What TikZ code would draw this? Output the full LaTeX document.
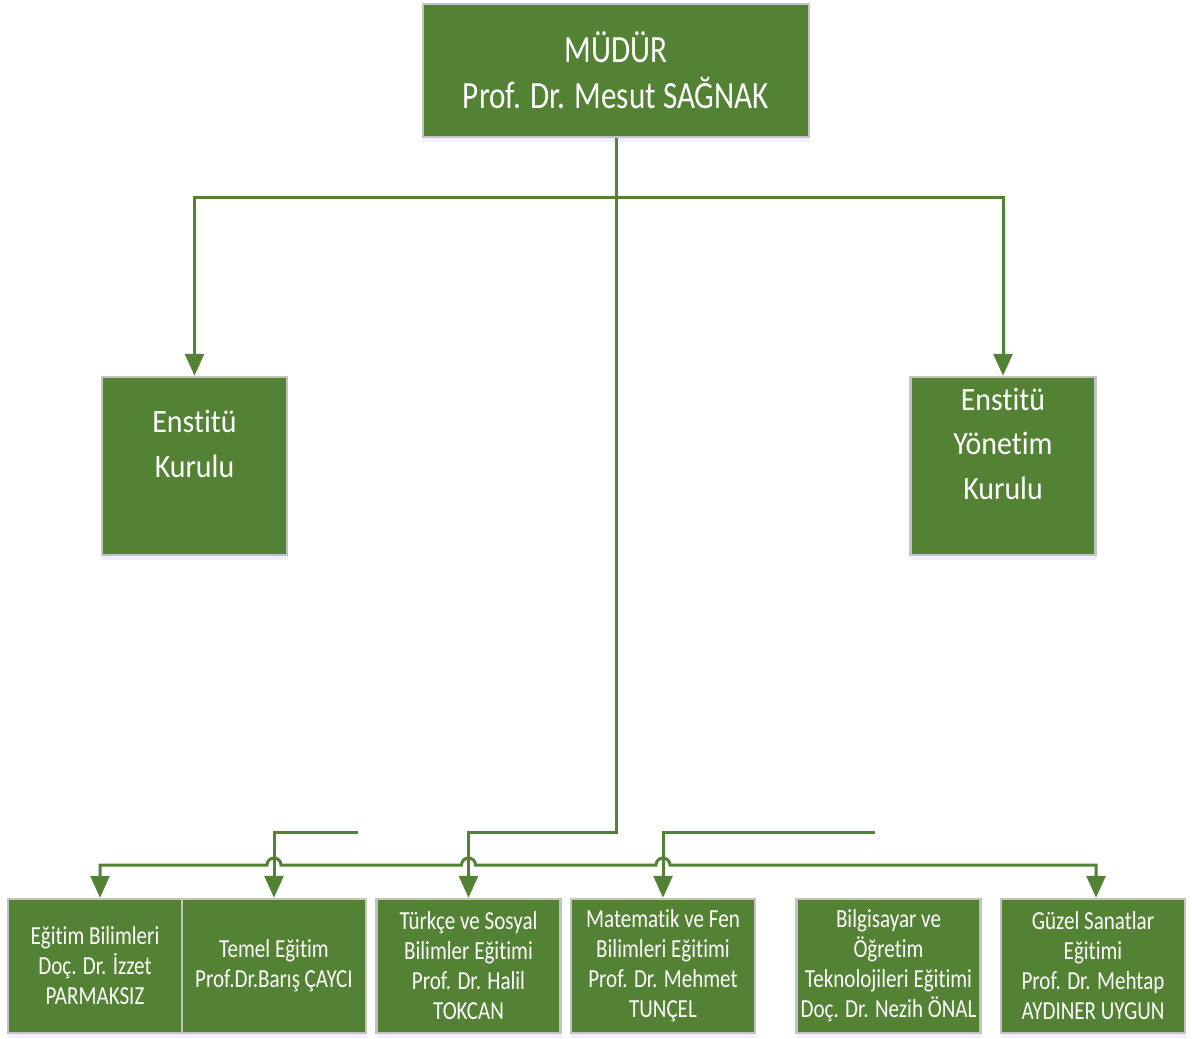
\documentclass[tikz,border=0pt]{standalone}
\usepackage{fontspec}
\setmainfont{Carlito}[Ligatures=NoCommon]
\newfontfamily\tallfont{Carlito}[Ligatures=NoCommon, FakeStretch=0.81]
\newfontfamily\midfont{Carlito}[Ligatures=NoCommon, FakeStretch=0.92]
\usetikzlibrary{arrows.meta,shadows}
\definecolor{boxgreen}{HTML}{548235}
\definecolor{boxedge}{HTML}{C3C3C3}
\tikzset{
  unit/.style={draw=boxedge, line width=2.5pt, fill=boxgreen, text=white, align=center, inner sep=2pt,
    drop shadow={shadow xshift=0pt, shadow yshift=-5pt, opacity=0.2, fill=blue!30}},
  bigunit/.style={unit, minimum width=185pt, minimum height=178pt, font=\midfont\fontsize{32.5}{44.5}\selectfont},
  smallunit/.style={unit, minimum width=184pt, minimum height=134pt, font=\tallfont\fontsize{26}{30}\selectfont},
  link/.style={draw=boxgreen, line width=3pt},
  arrow/.style={link, -{Triangle[width=19pt,length=22pt]}},
}
\begin{document}
\begin{tikzpicture}[x=1pt,y=-1pt]
\useasboundingbox (0,0) rectangle (1192,1039);
\node[unit, minimum width=386pt, minimum height=133pt, font=\tallfont\fontsize{38.5}{46}\selectfont] (mudur) at (616,70.5) {MÜDÜR\\Prof. Dr. Mesut SAĞNAK};
\node[bigunit] (kurul) at (194.5,466) {Enstitü\\Kurulu\\\mbox{}};
\node[bigunit] (yonetim) at (1003,466) {Enstitü\\Yönetim\\Kurulu\\\mbox{}};
\node[smallunit, minimum width=174pt] (egitim) at (95,966) {Eğitim Bilimleri\\Doç. Dr. İzzet\\PARMAKSIZ};
\node[smallunit] (temel) at (274,966) {Temel Eğitim\\Prof.Dr.Barış ÇAYCI};
\node[smallunit] (turkce) at (468.5,966) {Türkçe ve Sosyal\\Bilimler Eğitimi\\Prof. Dr. Halil\\TOKCAN};
\node[smallunit] (matfen) at (663,966) {Matematik ve Fen\\Bilimleri Eğitimi\\Prof. Dr. Mehmet\\TUNÇEL};
\node[smallunit] (bilgi) at (888.5,966) {Bilgisayar ve\\Öğretim\\Teknolojileri Eğitimi\\Doç. Dr. Nezih ÖNAL};
\node[smallunit] (guzel) at (1093,966) {Güzel Sanatlar\\Eğitimi\\Prof. Dr. Mehtap\\AYDINER UYGUN};

\coordinate (topbus) at (0,197);
\coordinate (drop) at (0,832);
\coordinate (bus) at (0,865);
\coordinate (tail1) at (358,832);
\coordinate (tail2) at (875,832);

\draw[arrow] (mudur.south |- topbus) -| (kurul.north);
\draw[arrow] (mudur.south |- topbus) -| (yonetim.north);
\draw[arrow] (mudur.south) -- (mudur.south |- drop) -| (turkce.north);
\draw[arrow] (tail1) -| (temel.north);
\draw[arrow] (tail2) -| (matfen.north);
\draw[link, {Triangle[width=19pt,length=22pt]}-{Triangle[width=19pt,length=22pt]}]
  ([xshift=5pt]egitim.north) -- ([xshift=5pt]egitim.north |- bus)
  -- ([xshift=-7pt]temel.north |- bus) arc[start angle=180, end angle=0, radius=7pt]
  -- ([xshift=-7pt]turkce.north |- bus) arc[start angle=180, end angle=0, radius=7pt]
  -- ([xshift=-7pt]matfen.north |- bus) arc[start angle=180, end angle=0, radius=7pt]
  -- ([xshift=3pt]guzel.north |- bus) -- ([xshift=3pt]guzel.north);
\end{tikzpicture}
\end{document}
